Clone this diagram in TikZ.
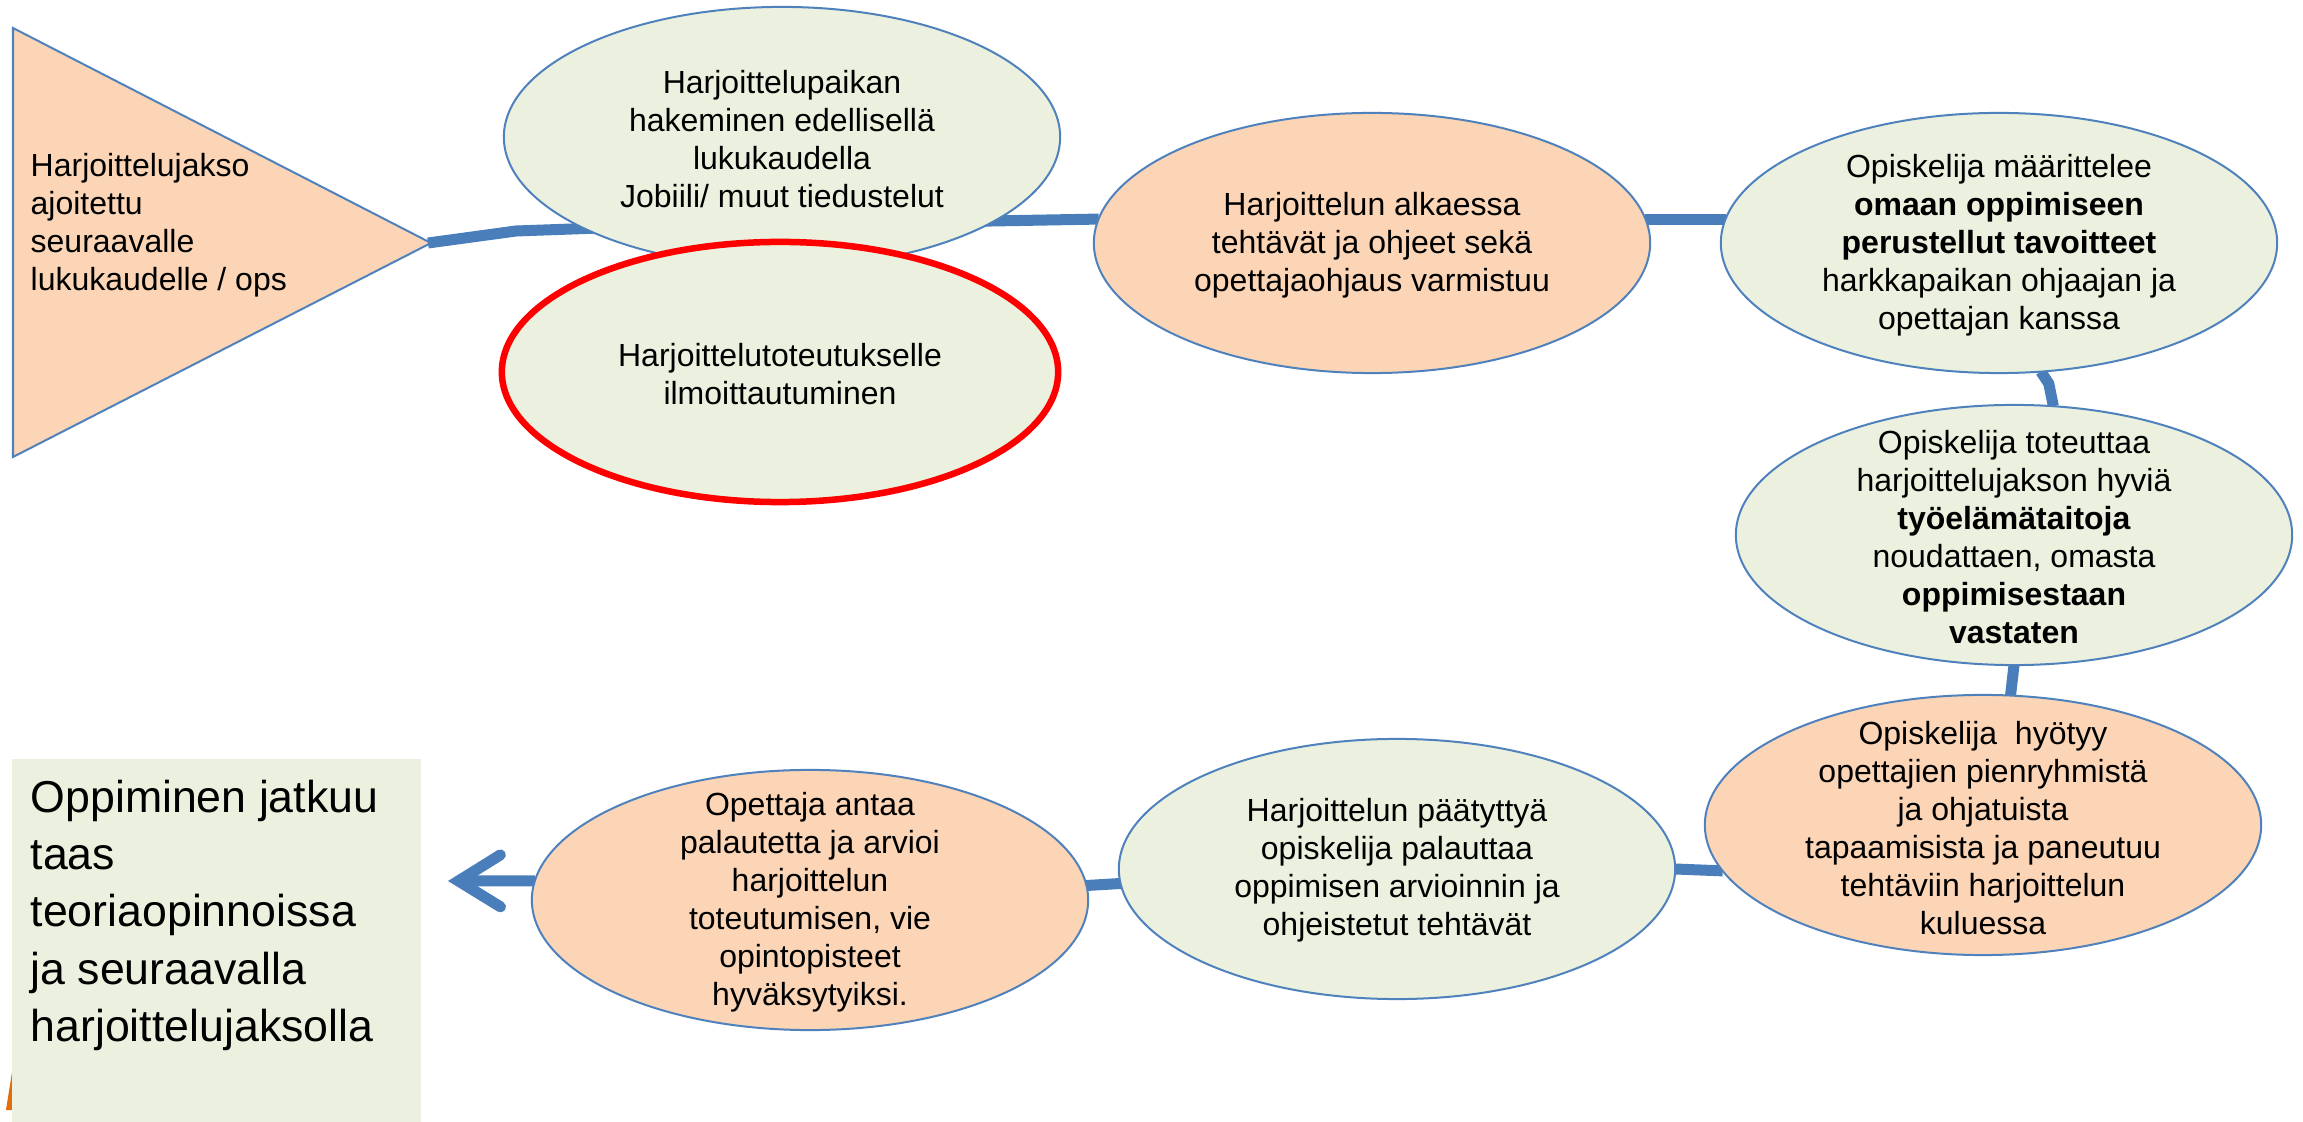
\documentclass[tikz,border=0pt]{standalone}
\usepackage{fontspec}
\setmainfont{Liberation Sans}
\usetikzlibrary{shapes.geometric,arrows.meta}
\definecolor{peach}{HTML}{FBD5B5}
\definecolor{pale}{HTML}{EBF1DE}
\definecolor{edgeblue}{HTML}{4F81BD}
\definecolor{connblue}{HTML}{4A7EBB}
\definecolor{ringred}{HTML}{FF0000}
\definecolor{sliver}{HTML}{E46C0A}
\pgfdeclarelayer{bg}
\pgfsetlayers{bg,main}
\begin{document}
\begin{tikzpicture}[x=0.01cm,y=-0.01cm,
  bub/.style={ellipse,draw=edgeblue,line width=0.02cm,minimum width=5.56cm,minimum height=2.6cm,inner sep=0pt,outer sep=0pt},
  gbub/.style={bub,fill=pale},
  obub/.style={bub,fill=peach},
  rbub/.style={bub,fill=pale,draw=ringred,line width=0.065cm},
  txt/.style={align=center,inner sep=0pt,font=\fontsize{9.1}{10.8}\selectfont},
  bigtxt/.style={align=left,inner sep=0pt,font=\fontsize{12.7}{16.3}\selectfont},
  flowline/.style={draw=connblue,line width=0.11cm},
]
\useasboundingbox (0,0) rectangle (2303,1122);
% ellipses
\node[gbub] (e1) at (782,137) {};
\node[rbub] (e2) at (780,372) {};
\node[obub] (e3) at (1372,243) {};
\node[gbub] (e4) at (1999,243) {};
\node[gbub] (e5) at (2014,535) {};
\node[obub] (e6) at (1983,825) {};
\node[gbub] (e7) at (1397,869) {};
\node[obub] (e8) at (810,900) {};
% texts
\node[txt] (t1) at (782,139) {Harjoittelupaikan\\hakeminen edellisellä\\lukukaudella\\Jobiili/ muut tiedustelut};
\node[txt] (t2) at (780,374) {Harjoittelutoteutukselle\\ilmoittautuminen};
\node[txt] (t3) at (1372,245) {Harjoittelun alkaessa\\tehtävät ja ohjeet sekä\\opettajaohjaus varmistuu};
\node[txt] (t4) at (1999,245) {Opiskelija määrittelee\\\textbf{omaan oppimiseen}\\\textbf{perustellut tavoitteet}\\harkkapaikan ohjaajan ja\\opettajan kanssa};
\node[txt] (t5) at (2014,537) {Opiskelija toteuttaa\\harjoittelujakson hyviä\\\textbf{työelämätaitoja}\\noudattaen, omasta\\\textbf{oppimisestaan}\\\textbf{vastaten}};
\node[txt] (t6) at (1983,828) {Opiskelija~ hyötyy\\opettajien pienryhmistä\\ja ohjatuista\\tapaamisista ja paneutuu\\tehtäviin harjoittelun\\kuluessa};
\node[txt] (t7) at (1397,870) {Harjoittelun päätyttyä\\opiskelija palauttaa\\oppimisen arvioinnin ja\\ohjeistetut tehtävät};
\node[txt] (t8) at (810,902) {Opettaja antaa\\palautetta ja arvioi\\harjoittelun\\toteutumisen, vie\\opintopisteet\\hyväksytyiksi.};
% triangle and connectors behind
\coordinate (tip) at (428,243);
\coordinate (arrtip) at (448,881);
\begin{pgfonlayer}{bg}
\draw[fill=peach,draw=edgeblue,line width=0.02cm] (13,28) -- (431,243) -- (13,457) -- cycle;
\draw[flowline] (tip) -- (516,231) -- (600,228) -- (e3.175);
\draw[flowline] (e3.5) -- (e4.175);
\draw[flowline] (e4.-72) -- ++(8,12) -- (e5.73);
\draw[flowline] (e5.south) -- (e6.78);
\draw[flowline] (e6.190) -- (e7.east);
\draw[flowline] (e7.183) -- (e8.3);
\draw[flowline,-{Straight Barb[length=0.42cm,width=0.52cm,line width=0.11cm,line cap=round]}] (e8.176) -- (arrtip);
\end{pgfonlayer}
\node[txt,align=left,anchor=west] (tritext) at (30,225) {Harjoittelujakso\\ajoitettu\\seuraavalle\\lukukaudelle / ops};
% final box
\fill[sliver] (6,1110) -- (12,1072) -- (12,1110) -- cycle;
\node[fill=pale,inner sep=0pt,outer sep=0pt,minimum width=4.09cm,minimum height=3.63cm,anchor=north west] (box) at (12,759) {};
\node[bigtxt,anchor=north west] (boxtext) at (30,779) {Oppiminen jatkuu\\taas\\teoriaopinnoissa\\ja seuraavalla\\harjoittelujaksolla};
\end{tikzpicture}
\end{document}
